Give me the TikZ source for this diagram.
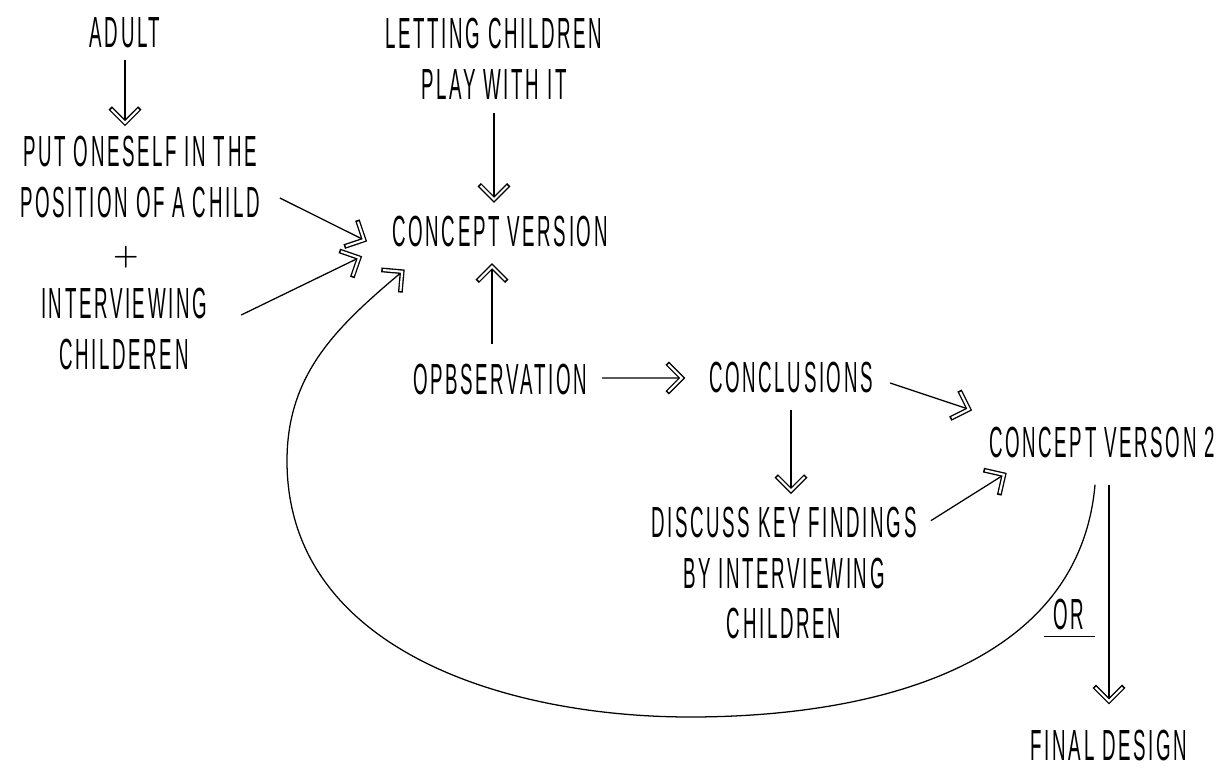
\documentclass[tikz,border=0pt]{standalone}
\usepackage{fontspec}
\newfontfamily\handfont[FakeStretch=0.43,LetterSpace=6]{Liberation Sans}
\usetikzlibrary{calc,decorations.markings}
\tikzset{
  txt/.style={font=\handfont\fontsize{31}{36}\selectfont,inner sep=0pt,align=center},
  chev/.style={line width=0.9pt,postaction={decorate,decoration={markings,
    mark=at position 1 with {
      \draw[line width=3.4pt,line join=miter] (-0.37,0.37) -- (0,0) -- (-0.37,-0.37);
      \draw[white,line width=1.5pt,line join=miter] (-0.34,0.34) -- (0,0) -- (-0.34,-0.34);}}}}
}

\begin{document}
\begin{tikzpicture}
  \useasboundingbox (0,0) rectangle (30.725,19.225);
  \node[txt] (adult) at (3.125,18.4) {ADULT};
  \node[txt] (put) at (3.5,14.8) {PUT ONESELF IN THE\\POSITION OF A CHILD};
  \node[inner sep=0pt,font=\fontsize{20}{22}\selectfont\boldmath] (plus) at (3.15,12.8) {$+$};
  \node[txt] (interv) at (3.1,11.0) {INTERVIEWING\\CHILDEREN};
  \node[txt] (letting) at (12.35,17.75) {LETTING CHILDREN\\PLAY WITH IT};
  \node[txt] (cv) at (12.5,13.425) {CONCEPT VERSION};
  \node[txt] (obs) at (12.5,9.725) {OPBSERVATION};
  \node[txt] (concl) at (19.775,9.775) {CONCLUSIONS};
  \node[txt] (disc) at (19.6,4.9) {DISCUSS KEY FINDINGS\\BY INTERVIEWING\\CHILDREN};
  \node[txt] (cv2) at (27.55,8.15) {CONCEPT VERSON 2};
  \node[txt] (or) at (26.725,3.875) {OR};
  \node[txt] (final) at (27.725,0.58) {FINAL DESIGN};
  \coordinate (lowpt) at (17.25,1.3);
  \coordinate (leftpt) at (7.175,7.7);

  \draw[chev] ($(adult.south)+(0,-0.3)$) -- ($(adult.south |- put.north)+(0,0.33)$);
  \draw[chev] ($(letting.south)+(0,-0.33)$) -- ($(letting.south |- cv.north)+(0,0.42)$);
  \draw[chev] ($(put.south east)+(0.5,0.5)$) -- ($(cv.west)+(-0.7,-0.2)$);
  \draw[chev] ($(interv.east)+(0.85,0.35)$) -- ($(cv.south west)+(-0.825,-0.25)$);
  \draw[chev] ($(obs.north)+(-0.2,0.5)$) -- ($(obs.north |- cv.south)+(-0.2,-0.47)$);
  \draw[chev] ($(obs.east)+(0.375,0.05)$) -- ($(concl.west)+(-0.675,0)$);
  \draw[chev] ($(concl.south)+(0,-0.4)$) -- ($(concl.south |- disc.north)+(0,0.4)$);
  \draw[chev] ($(concl.east)+(0.425,-0.125)$) -- ($(cv2.north west)+(-0.5,0.45)$);
  \draw[chev] ($(disc.north east)+(0.35,-0.35)$) -- ($(cv2.south west)+(0.375,-0.4)$);
  \draw[chev] ($(final.north |- cv2.south)+(0,-0.65)$) -- ($(final.north)+(0,0.725)$);
  \draw[chev] ($(cv2.south)+(-0.175,-0.65)$) to[out=-95,in=0] (lowpt)
    to[out=180,in=-90] (leftpt) to[out=90,in=220] ($(cv.south west)+(0.25,-0.6)$);
  \draw[line width=0.9pt] ($(or.south west)+(-0.225,-0.175)$) -- ($(or.south east)+(0.25,-0.175)$);
\end{tikzpicture}
\end{document}
